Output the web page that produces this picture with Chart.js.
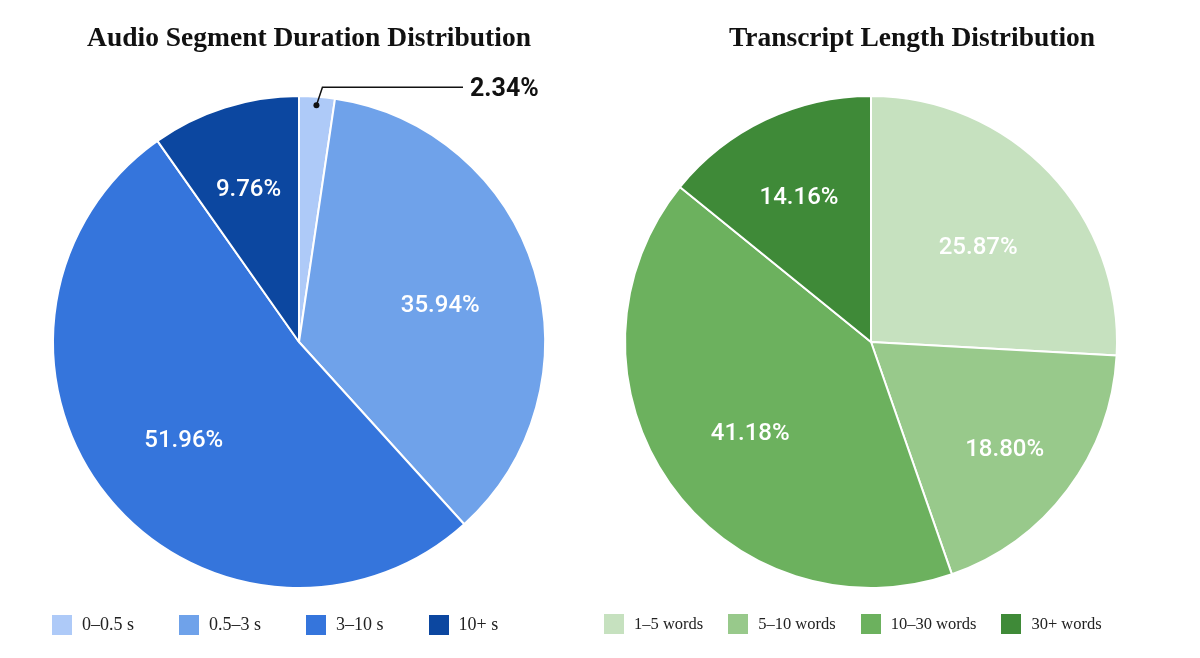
<!DOCTYPE html>
<html>
<head>
<meta charset="utf-8">
<script src="https://cdn.jsdelivr.net/npm/chart.js@4.4.1/dist/chart.umd.min.js"></script>
<style>
    html, body { margin: 0; padding: 0; background: #ffffff; }
    #page { position: relative; width: 1200px; height: 658px; overflow: hidden; }
    .panel { position: absolute; top: 0; width: 600px; height: 658px; }
    .title {
        position: absolute; top: 21px; width: 600px; text-align: center;
        font-family: "Liberation Serif", "Times New Roman", serif;
        font-weight: bold; font-size: 27.5px; color: #111;
    }
    .legend {
        position: absolute; top: 614px; display: flex; align-items: center;
        font-family: "Liberation Serif", "Times New Roman", serif; font-size: 18px; color: #222;
    }
    .legend .item { display: flex; align-items: center; }
    .legend .box { width: 20px; height: 20px; margin-right: 10px; }
</style>
</head>
<body>
<div id="page">
    <div class="panel" style="left:0">
        <canvas id="audioChart" width="600" height="658"></canvas>
    </div>
    <div class="panel" style="left:600px">
        <canvas id="textChart" width="600" height="658"></canvas>
    </div>
    <div class="title" style="left:9px">Audio Segment Duration Distribution</div>
    <div class="title" style="left:612px">Transcript Length Distribution</div>
    <div class="legend" id="audio-legend" style="left:52px"></div>
    <div class="legend" id="text-legend" style="left:604px; font-size:16.5px"></div>
</div>

<script>
    // Audio segment durations
    const audioLabels = ['0\u20130.5 s', '0.5\u20133 s', '3\u201310 s', '10+ s'];
    const audioValues = [2.34, 35.94, 51.96, 9.76];
    const audioColors = ['#aecaf8', '#6fa2ea', '#3575dc', '#0c47a0'];

    // Transcript lengths
    const textLabels = ['1\u20135 words', '5\u201310 words', '10\u201330 words', '30+ words'];
    const textValues = [25.87, 18.80, 41.18, 14.16];
    const textColors = ['#c6e1bf', '#98c98b', '#6cb15e', '#3f8a38'];

    // Percent labels drawn on the slices
    const sliceLabels = {
        id: 'sliceLabels',
        afterDatasetsDraw(chart) {
            const ctx = chart.ctx;
            const meta = chart.getDatasetMeta(0);
            const values = chart.data.datasets[0].data;
            ctx.save();
            meta.data.forEach((arc, i) => {
                const p = arc.getProps(['x', 'y', 'startAngle', 'endAngle', 'outerRadius'], true);
                const mid = (p.startAngle + p.endAngle) / 2;
                const text = values[i].toFixed(2) + '%';

                if (values[i] < 5) {
                    // small slice: label outside with a leader line
                    const dx = p.x + Math.cos(mid) * p.outerRadius * 0.965;
                    const dy = p.y + Math.sin(mid) * p.outerRadius * 0.965;
                    const ex = dx + 6, ey = dy - 18;
                    const endX = p.x + 164;
                    ctx.strokeStyle = '#111';
                    ctx.lineWidth = 1.5;
                    ctx.beginPath();
                    ctx.moveTo(dx, dy);
                    ctx.lineTo(ex, ey);
                    ctx.lineTo(endX, ey);
                    ctx.stroke();
                    ctx.fillStyle = '#111';
                    ctx.beginPath();
                    ctx.arc(dx, dy, 3, 0, Math.PI * 2);
                    ctx.fill();
                    ctx.font = 'bold 25px Roboto, "Liberation Sans", sans-serif';
                    ctx.textAlign = 'left';
                    ctx.textBaseline = 'middle';
                    ctx.fillText(text, endX + 7, ey + 2);
                    return;
                }

                const frac = values[i] < 20 ? 0.68 : 0.6;
                const x = p.x + Math.cos(mid) * p.outerRadius * frac;
                const y = p.y + Math.sin(mid) * p.outerRadius * frac + 7;
                ctx.fillStyle = '#ffffff';
                ctx.font = '500 24px Roboto, "Liberation Sans", sans-serif';
                ctx.textAlign = 'center';
                ctx.textBaseline = 'middle';
                ctx.fillText(text, x, y);
            });
            ctx.restore();
        }
    };

    function makePie(canvasId, labels, values, colors, padding) {
        const ctx = document.getElementById(canvasId).getContext('2d');
        return new Chart(ctx, {
            type: 'pie',
            data: {
                labels,
                datasets: [{
                    data: values,
                    backgroundColor: colors,
                    borderColor: '#ffffff',
                    borderWidth: 2
                }]
            },
            options: {
                responsive: false,
                animation: false,
                layout: { padding },
                plugins: {
                    legend: { display: false },
                    tooltip: { enabled: false }
                }
            },
            plugins: [sliceLabels]
        });
    }

    function buildLegend(elId, labels, colors, gap) {
        const el = document.getElementById(elId);
        el.style.gap = gap + 'px';
        el.innerHTML = labels.map((label, i) => `
            <div class="item">
                <span class="box" style="background:${colors[i]}"></span>
                <span>${label}</span>
            </div>
        `).join('');
    }

    makePie('audioChart', audioLabels, audioValues, audioColors, { left: 52, right: 54, top: 95, bottom: 69 });
    makePie('textChart', textLabels, textValues, textColors, { left: 24, right: 82, top: 95, bottom: 69 });

    buildLegend('audio-legend', audioLabels, audioColors, 45);
    buildLegend('text-legend', textLabels, textColors, 25);
</script>
</body>
</html>
